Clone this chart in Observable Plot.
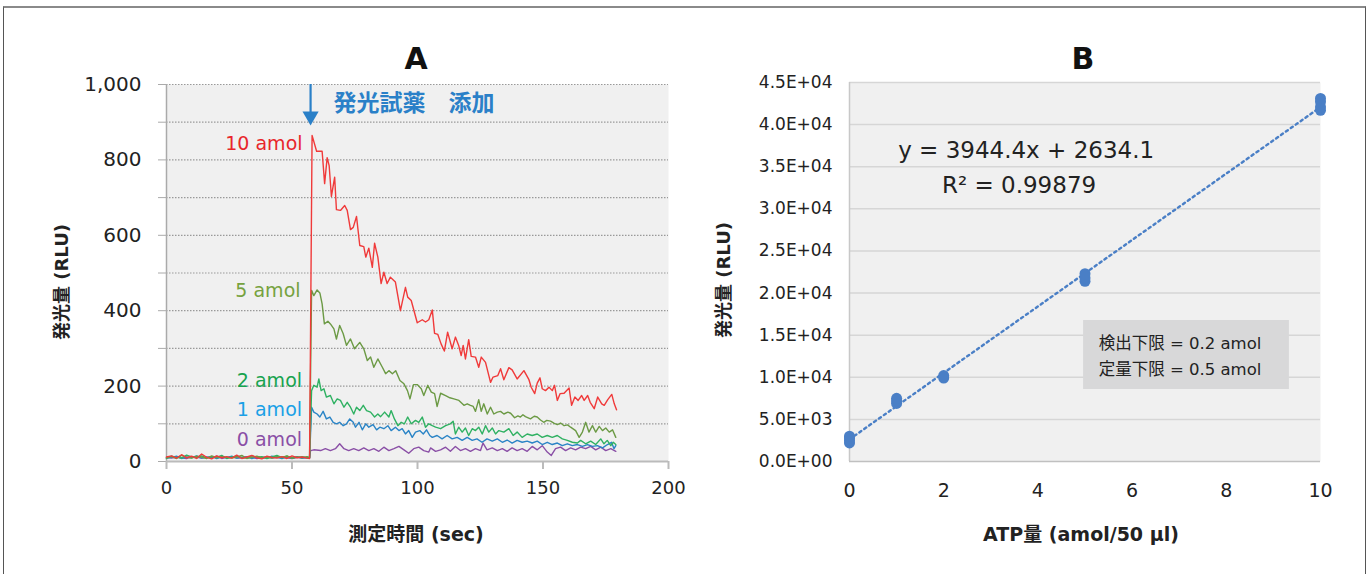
<!DOCTYPE html>
<html>
<head>
<meta charset="utf-8">
<script src="https://cdn.jsdelivr.net/npm/d3@7"></script>
<script src="https://cdn.jsdelivr.net/npm/@observablehq/plot@0.6"></script>
<style>
  body { margin: 0; background: #fff; }
  #wrap { position: relative; width: 1370px; height: 574px; overflow: hidden; background: #fff;
          font-family: "DejaVu Sans", "Noto Sans CJK JP", sans-serif; color: #222; }
  #frame { position: absolute; left: 3px; top: 6px; width: 1361px; height: 600px;
           border-left: 1px solid #555; border-right: 1px solid #555; border-top: 2px solid #8a8a8a; }
  .abs { position: absolute; white-space: nowrap; transform: translate(-50%, -50%); }
  .title { font-size: 30px; font-weight: bold; color: #111; }
  .axlab { font-size: 18px; font-weight: bold; color: #222; }
  .panel { position: absolute; top: 0; }
</style>
</head>
<body>
<div id="wrap">
  <div id="frame"></div>
  <div class="abs title" style="left:416px; top:58px;">A</div>
  <div class="abs title" style="left:1083px; top:58px;">B</div>
  <div class="abs axlab" style="left:60px; top:282px; transform: translate(-50%,-50%) rotate(-90deg);">発光量 (RLU)</div>
  <div class="abs axlab" style="left:722px; top:280px; transform: translate(-50%,-50%) rotate(-90deg);">発光量 (RLU)</div>
  <div class="abs axlab" style="left:416px; top:532px; font-size:19px;">測定時間 (sec)</div>
  <div class="abs axlab" style="left:1081px; top:532px; font-size:19px;">ATP量 (amol/50 μl)</div>
  <div id="panelA" class="panel" style="left:0px;"></div>
  <div id="panelB" class="panel" style="left:700px;"></div>
</div>
<script>
// ---------- Panel A data: luminescence time course ----------
const tBase = [0,2,4,6,8,10,12,14,16,18,20,22,24,26,28,30,32,34,36,38,40,42,44,46,48,50,52,54,56];
const base10 = [12,15,9,18,10,14,8,20,11,7,15,10,13,9,17,8,12,16,10,7,14,11,9,13,8,15,10,12,9];
const base5  = [10,13,8,16,11,9,14,12,8,15,10,13,11,9,12,16,8,11,14,10,12,9,13,11,15,9,12,10,13];
const base2  = [8,14,11,9,17,12,10,15,9,13,11,16,8,12,14,10,9,15,11,13,8,12,16,10,14,9,11,13,10];
const base1  = [9,11,14,8,12,10,15,9,11,13,8,12,10,14,9,11,13,8,12,10,9,14,11,8,12,10,13,9,11];
const base0  = [11,9,12,10,8,13,11,9,12,10,14,8,11,13,9,10,12,11,8,10,13,9,11,12,10,8,11,9,10];

const post10 = [[57,8],[58,865],[59.8,823],[62,823],[63,737],[64,806],[64.8,785],[65.7,703],[67,754],[67.7,668],[69.3,666],[71,679],[72,666],[73.3,615],[74.4,621],[75.7,650],[77,573],[78.6,570],[79.4,542],[80.6,566],[82,515],[82.9,579],[84.2,542],[85.5,472],[86.6,502],[87.9,472],[89.2,489],[91.2,476],[93.2,400],[95.2,462],[96.1,436],[97.5,427],[99.9,368],[101.9,376],[103.2,370],[104.5,376],[105.9,402],[106.8,340],[108.1,337],[109.4,312],[110.7,293],[112,343],[113.8,299],[115.1,330],[116.4,308],[117.4,281],[118.2,308],[119.1,272],[120.4,323],[121.4,279],[123.1,277],[124.4,250],[125.4,277],[127.1,263],[129.1,210],[130.1,224],[132,228],[133.1,246],[134.4,217],[136.4,249],[137.7,243],[139.7,219],[142.4,241],[144.4,217],[145.3,197],[146.7,180],[147.7,208],[148.8,222],[149.7,193],[151,188],[152.4,197],[153.7,188],[154.6,202],[155.7,162],[156.8,180],[158.4,181],[160.4,195],[161.4,149],[162.7,171],[164,162],[165.4,175],[166.4,162],[167.8,175],[168.8,157],[170.4,140],[171.8,171],[173.4,153],[174.4,149],[175.8,164],[177.4,178],[178.4,153],[179.3,137]];
const post5 = [[57,11],[57.8,454],[58.7,440],[60,455],[61.1,447],[62,418],[62.9,365],[64.3,372],[65.3,365],[66.7,352],[67.7,325],[69,361],[70.4,339],[71.7,308],[73.3,325],[74.9,299],[77,316],[78.6,299],[80,268],[81.3,277],[82.6,250],[84.2,272],[86,250],[87.3,233],[88.6,241],[90,233],[91.3,241],[93,215],[94.6,206],[96,188],[97,166],[98.4,204],[99.9,204],[101.5,193],[102.5,175],[104.1,202],[105.5,184],[106.8,180],[107.8,146],[109.2,181],[111.2,175],[112.9,169],[114.5,166],[116.5,162],[118.5,149],[119.8,153],[121.1,149],[122.2,146],[123.1,133],[124.4,164],[125.4,133],[126.4,153],[127.8,126],[129.1,144],[130.4,126],[131.8,131],[133.1,133],[134.4,126],[136,131],[137.1,128],[138.7,116],[140,121],[141,118],[142,124],[143,119],[145,113],[146.5,120],[147.7,118],[149,110],[150.3,104],[151.5,109],[153,107],[154.5,101],[155.7,98],[157,102],[158.4,95],[159.8,97],[161,91],[163,82],[164.4,64],[165.7,78],[167,104],[168.3,78],[169.7,95],[171,78],[172.4,93],[173.7,82],[175,89],[176.4,78],[177.7,84],[179,64]];
const post2 = [[57,10],[57.8,188],[58.7,202],[60,197],[60.7,219],[61.6,188],[62.7,193],[63.7,171],[65.3,175],[66.7,153],[68,166],[69.3,162],[70.7,144],[72,157],[73.3,144],[74.6,126],[75.7,144],[77,135],[78.4,149],[79.7,135],[81.3,131],[82.9,118],[84.2,126],[85.3,119],[86.9,131],[88.6,118],[89.5,135],[90.8,113],[92.2,95],[93.5,104],[94.8,100],[96.1,118],[97.5,100],[99.2,109],[100.5,104],[101.9,118],[103.2,91],[104.5,100],[105.9,95],[107.2,91],[109.2,87],[111.2,95],[113.1,100],[114.2,107],[115.1,73],[116.4,91],[117.8,78],[119.1,89],[120.4,69],[121.8,87],[123.1,82],[124.4,91],[125.8,73],[127.1,95],[128.4,78],[129.8,89],[131.1,73],[132.4,82],[134.4,78],[136.4,87],[138.1,69],[139.7,78],[141.7,64],[143.7,73],[145.7,69],[147.7,73],[149.7,64],[151.7,69],[153.7,64],[155.7,69],[157.7,60],[159.7,56],[161.7,51],[163.7,49],[165,56],[167,47],[169,54],[171,45],[173,60],[174.3,47],[175.6,56],[177,42],[178,51],[179,45]];
const post1 = [[57,9],[57.8,144],[58.7,131],[60,126],[61.1,118],[62.4,133],[63.7,113],[65.1,118],[66.4,104],[67.7,100],[69,104],[70.4,95],[71.7,100],[73,113],[74.4,104],[75.3,91],[76.7,104],[78,84],[79.4,100],[80.6,91],[82.3,98],[83.7,84],[85,91],[86.6,87],[88.2,95],[89.5,82],[91.2,91],[92.6,82],[93.9,87],[95.2,73],[96.5,82],[97.9,64],[99.2,78],[100.9,82],[102.3,73],[103.6,84],[104.9,69],[105.9,64],[107.8,69],[109.8,60],[111.8,69],[113.8,60],[115.8,64],[117.8,56],[119.8,64],[121.8,56],[123.7,60],[125.7,51],[127.7,60],[129.8,54],[131.8,60],[133.8,51],[135.7,57],[137.7,49],[139.7,56],[141.7,51],[143.7,54],[145.7,49],[147.7,54],[149.7,45],[151.7,51],[153.7,45],[155.7,49],[157.7,42],[159.7,47],[161.7,42],[163.7,45],[165.7,40],[167.7,45],[169.7,40],[171.7,42],[173.7,36],[175.7,45],[177.3,51],[178.3,34],[179,42]];
const post0 = [[57,10],[57.4,29],[58.7,31],[61.4,29],[63.3,34],[65.3,29],[67.3,34],[69,47],[70.7,34],[72.6,29],[74.6,34],[76.6,29],[78.6,36],[80.6,29],[82.6,34],[84.6,27],[86.6,38],[88.6,29],[90.6,34],[92.6,40],[94.6,31],[96.5,22],[98.5,34],[100.5,38],[102.5,29],[104.5,25],[105.2,36],[107.2,27],[109.2,31],[111.2,38],[113.1,27],[115.1,40],[117.1,29],[119.1,34],[121.1,27],[123.1,34],[125.1,29],[126.1,49],[127.7,31],[129.8,36],[131.8,29],[133.8,34],[135.7,27],[137.7,36],[139.7,29],[141.7,34],[143.7,27],[145.7,40],[147.7,31],[149.7,42],[151.7,25],[153.3,16],[155,34],[157,38],[159,29],[161,36],[163,31],[165,38],[167,34],[169,40],[171,31],[173,38],[175,29],[177,34],[179,27]];

const seriesNames = ["0 amol", "1 amol", "2 amol", "5 amol", "10 amol"];
const lineColors  = ["#8a4fa6", "#2a84c6", "#2fb162", "#6c9a45", "#f03a3a"];
const labelColors = ["#8a4fa6", "#1aa0e6", "#17a34f", "#76a23f", "#e8262b"];
const labelPos    = [[54, 56], [54, 138], [54, 215], [53.4, 453], [54.2, 843]]; // [sec, RLU]

// ---------- Panel B data: calibration ----------
const atpX = [0,0,0,0, 1,1,1, 2,2, 5,5,5, 10,10,10,10];
const atpY = [2200,2500,2800,3000, 6900,7200,7500, 9900,10200, 21400,21800,22300, 41700,42100,42700,43100];
const fitSlope = 3944.4, fitIntercept = 2634.1;
const eqText = "y = 3944.4x + 2634.1";
const r2Text = "R² = 0.99879";
const limitTexts = ["検出下限 = 0.2 amol", "定量下限 = 0.5 amol"];

const FONT = '"DejaVu Sans", "Noto Sans CJK JP", sans-serif';

// ---------- build Panel A ----------
const bases = [base0, base1, base2, base5, base10];
const posts = [post0, post1, post2, post5, post10];
const rows = seriesNames.map((name, i) =>
  tBase.map((t, j) => ({t, v: bases[i][j], s: name}))
    .concat(posts[i].map(([t, v]) => ({t, v, s: name}))));

const plotA = Plot.plot({
  width: 700, height: 574,
  marginLeft: 166, marginRight: 32, marginTop: 84, marginBottom: 113,
  style: {fontFamily: FONT, fontSize: "18px", background: "transparent", color: "#222", overflow: "visible"},
  x: {domain: [0, 200]},
  y: {domain: [0, 1000]},
  marks: [
    Plot.frame({fill: "#f0f0f0", stroke: "none"}),
    Plot.ruleY(d3.range(100, 1001, 100), {stroke: "#999", strokeWidth: 1.2, strokeDasharray: "1.5,1.5"}),
    Plot.ruleX([0], {stroke: "#aaa", strokeWidth: 1.5}),
    Plot.ruleY([0], {stroke: "#bbb", strokeWidth: 2}),
    Plot.axisY({ticks: d3.range(0, 1001, 100), tickSize: 8, tickPadding: 17, stroke: "#aaa",
                tickFormat: d => d % 200 === 0 ? d3.format(",")(d) : "", fill: "#222", fontSize: 20, label: null}),
    Plot.axisX({ticks: [0, 50, 100, 150, 200], tickSize: 8, tickPadding: 12, stroke: "#bbb", strokeWidth: 2,
                fill: "#222", fontSize: 18, label: null}),
    ...rows.map((r, i) => Plot.line(r, {x: "t", y: "v", stroke: lineColors[i], strokeWidth: 1.4})),
    ...seriesNames.map((name, i) => Plot.text([name], {x: labelPos[i][0], y: labelPos[i][1], text: d => d,
                textAnchor: "end", fill: labelColors[i], fontSize: 19})),
    Plot.ruleX([57.4], {y1: 1000, y2: 920, stroke: "#2a80c8", strokeWidth: 2.2}),
    Plot.dot([57.4], {x: d => d, y: 916, symbol: "triangle", rotate: 180, r: 6, fill: "#2a80c8", stroke: "none"}),
    Plot.text(["発光試薬　添加"], {x: 66.5, y: 950, text: d => d, textAnchor: "start", fill: "#2a80c8",
                fontSize: 23, fontWeight: "bold"})
  ]
});
document.getElementById("panelA").appendChild(plotA);

// ---------- build Panel B ----------
const pts = atpX.map((x, i) => ({x, y: atpY[i]}));
const fit = [0, 10].map(x => ({x, y: fitSlope * x + fitIntercept}));

const plotB = Plot.plot({
  width: 670, height: 574,
  marginLeft: 149, marginRight: 50, marginTop: 82, marginBottom: 113,
  style: {fontFamily: FONT, fontSize: "17px", background: "transparent", color: "#222", overflow: "visible"},
  x: {domain: [0, 10]},
  y: {domain: [0, 45000]},
  marks: [
    Plot.frame({fill: "#f0f0f0", stroke: "none"}),
    Plot.ruleY(d3.range(5000, 45001, 5000), {stroke: "#d6d6d6", strokeWidth: 1.5}),
    Plot.ruleX([0], {stroke: "#c8c8c8", strokeWidth: 1.5}),
    Plot.ruleY([0], {stroke: "#c0c0c0", strokeWidth: 1.5}),
    Plot.axisY({ticks: d3.range(0, 45001, 5000), tickSize: 0, tickPadding: 17, fill: "#222", fontSize: 17,
                tickFormat: d => d.toExponential(1).replace(/e\+(\d)$/, "E+0$1").replace(/e\+(\d\d)$/, "E+$1"),
                label: null}),
    Plot.axisX({ticks: [0, 2, 4, 6, 8, 10], tickSize: 0, tickPadding: 22, fill: "#222", fontSize: 19, label: null}),
    Plot.rect([0], {x1: 4.97, x2: 9.34, y1: 8549, y2: 16742, fill: "#d8d8d9"}),
    Plot.text([limitTexts[0]], {x: 5.29, y: 14011, text: d => d, textAnchor: "start", fill: "#222", fontSize: 16.5}),
    Plot.text([limitTexts[1]], {x: 5.29, y: 10924, text: d => d, textAnchor: "start", fill: "#222", fontSize: 16.5}),
    Plot.line(fit, {x: "x", y: "y", stroke: "#4a7fc6", strokeWidth: 2.4, strokeDasharray: "2.4,3.6"}),
    Plot.dot(pts, {x: "x", y: "y", r: 5.5, fill: "#4a7fc6", stroke: "none"}),
    Plot.text([eqText], {x: 3.75, y: 36925, text: d => d, fill: "#222", fontSize: 23}),
    Plot.text([r2Text], {x: 3.6, y: 32770, text: d => d, fill: "#222", fontSize: 23})
  ]
});
document.getElementById("panelB").appendChild(plotB);
</script>
</body>
</html>
